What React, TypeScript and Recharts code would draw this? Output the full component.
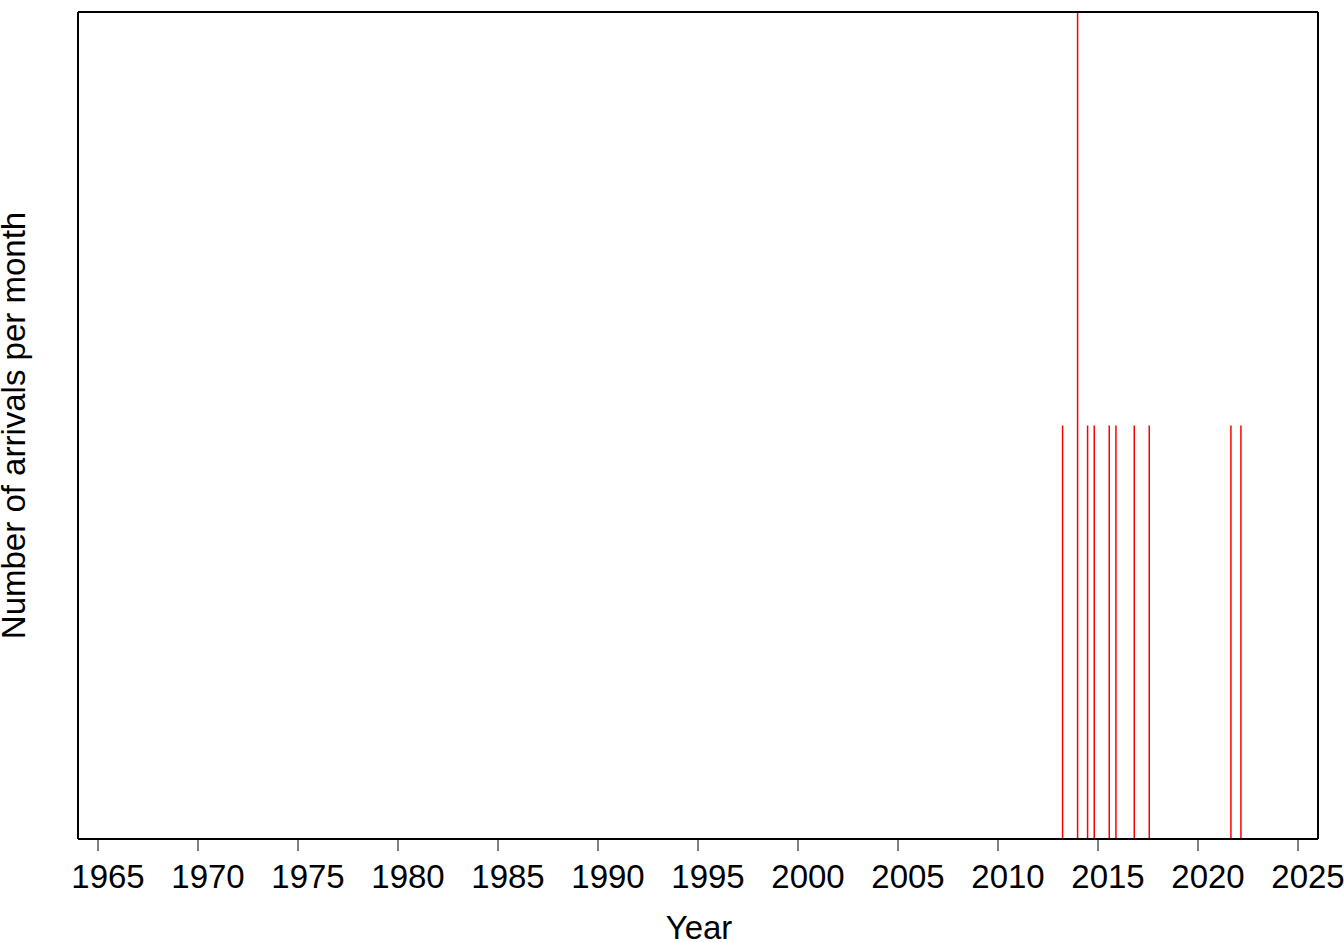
import { Bar, ComposedChart, XAxis, YAxis } from "recharts";

// months with at least one arrival (YYYY-MM) and how many
const arrivalMonths = [
  "2013-03",
  "2013-12",
  "2014-06",
  "2014-10",
  "2015-07",
  "2015-11",
  "2016-10",
  "2017-07",
  "2021-08",
  "2022-02",
];
const arrivalCounts = [1, 2, 1, 1, 1, 1, 1, 1, 1, 1];

const yearTicks = [
  1965, 1970, 1975, 1980, 1985, 1990, 1995, 2000, 2005, 2010, 2015, 2020, 2025,
];
const yearDomain: [number, number] = [1964, 2026];
const countDomain: [number, number] = [0, 2];

// month -> decimal year, placed at mid-month
const toDecimalYear = (ym: string) => {
  const [y, m] = ym.split("-").map(Number);
  return y + (m - 0.5) / 12;
};

const data = arrivalMonths.map((m, i) => ({
  year: toDecimalYear(m),
  count: arrivalCounts[i],
}));

const FONT = "Liberation Sans, Arial, Helvetica, sans-serif";

const Spike = (props: any) => {
  const { x, y, width, height } = props;
  if (!height) return null;
  const cx = x + width / 2;
  return <rect x={cx - 0.75} y={y} width={1.5} height={height} fill="#ff0000" />;
};

const YTitle = (props: any) => {
  const vb = props.viewBox || {};
  const x = vb.x + 25;
  const y = vb.y + vb.height / 2;
  return (
    <text
      x={x}
      y={y}
      transform={`rotate(-90 ${x} ${y})`}
      textAnchor="middle"
      fontSize={33}
      fontFamily={FONT}
      fill="#000"
    >
      Number of arrivals per month
    </text>
  );
};

const XTitle = (props: any) => {
  const vb = props.viewBox || {};
  return (
    <text
      x={vb.x + vb.width / 2 + 1}
      y={vb.y + 100}
      textAnchor="middle"
      fontSize={33}
      fontFamily={FONT}
      fill="#000"
    >
      Year
    </text>
  );
};

export default function App() {
  return (
    <div style={{ width: 1344, height: 942, background: "#fff" }}>
      <style>{`body{margin:0}`}</style>
      <ComposedChart
        width={1344}
        height={942}
        data={data}
        margin={{ top: 0, right: 0, bottom: 0, left: 0 }}
      >
        <Bar
          dataKey="count"
          fill="#ff0000"
          barSize={1.5}
          shape={Spike}
          isAnimationActive={false}
        />
        <XAxis
          dataKey="year"
          type="number"
          domain={yearDomain}
          ticks={yearTicks}
          allowDataOverflow
          height={103}
          tickSize={12}
          tickMargin={14}
          axisLine={{ stroke: "#000", strokeWidth: 2 }}
          tickLine={{ stroke: "#000", strokeWidth: 1 }}
          tick={{ fontSize: 33, fill: "#000", fontFamily: FONT, dx: 10 }}
          interval={0}
          label={<XTitle />}
        />
        <XAxis
          xAxisId="top"
          orientation="top"
          type="number"
          domain={yearDomain}
          ticks={yearTicks}
          allowDataOverflow
          height={12}
          tickSize={12}
          axisLine={{ stroke: "#000", strokeWidth: 2 }}
          tickLine={{ stroke: "#000", strokeWidth: 1 }}
          tick={() => <g />}
          interval={0}
        />
        <YAxis
          type="number"
          domain={countDomain}
          allowDataOverflow
          width={78}
          tick={false}
          tickLine={false}
          axisLine={{ stroke: "#000", strokeWidth: 2 }}
          label={<YTitle />}
        />
        <YAxis
          yAxisId="right"
          orientation="right"
          type="number"
          domain={countDomain}
          width={26}
          tick={false}
          tickLine={false}
          axisLine={{ stroke: "#000", strokeWidth: 2 }}
        />
      </ComposedChart>
    </div>
  );
}
